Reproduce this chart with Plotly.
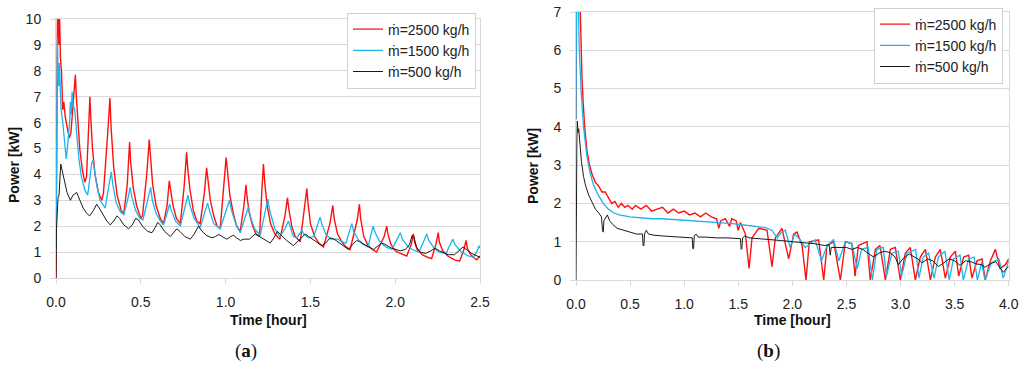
import plotly.graph_objects as go

# ---------------- (a) data ----------------
a_red_t = [0.0, 0.003, 0.006, 0.009, 0.016, 0.02, 0.026, 0.032, 0.04, 0.046, 0.055, 0.065, 0.078, 0.088, 0.1, 0.108, 0.114, 0.12, 0.13, 0.14, 0.155, 0.17, 0.18, 0.192, 0.2, 0.205, 0.215, 0.23, 0.25, 0.27, 0.28, 0.305, 0.318, 0.325, 0.34, 0.36, 0.385, 0.4, 0.42, 0.434, 0.44, 0.455, 0.475, 0.5, 0.51, 0.535, 0.55, 0.556, 0.57, 0.59, 0.615, 0.634, 0.655, 0.668, 0.675, 0.69, 0.71, 0.733, 0.755, 0.77, 0.776, 0.79, 0.81, 0.83, 0.85, 0.875, 0.888, 0.895, 0.91, 0.93, 0.95, 0.968, 0.99, 1.003, 1.01, 1.025, 1.045, 1.065, 1.086, 1.108, 1.12, 1.127, 1.14, 1.16, 1.18, 1.2, 1.215, 1.223, 1.232, 1.245, 1.265, 1.29, 1.32, 1.35, 1.365, 1.372, 1.39, 1.41, 1.44, 1.465, 1.479, 1.486, 1.5, 1.525, 1.55, 1.577, 1.615, 1.632, 1.64, 1.66, 1.69, 1.71, 1.734, 1.775, 1.789, 1.796, 1.815, 1.84, 1.865, 1.89, 1.935, 1.95, 1.957, 1.975, 2.0, 2.03, 2.068, 2.095, 2.107, 2.114, 2.13, 2.16, 2.19, 2.215, 2.24, 2.254, 2.26, 2.28, 2.31, 2.35, 2.38, 2.405, 2.418, 2.425, 2.445, 2.47, 2.48, 2.5]
a_red_p = [0.0, 3.0, 8.0, 10.5, 9.0, 10.5, 8.5, 8.0, 6.5, 6.8, 6.2, 5.8, 5.4, 5.6, 6.6, 7.2, 7.85, 7.0, 6.0, 5.0, 4.2, 3.7, 3.9, 5.8, 7.0, 6.2, 5.0, 4.0, 3.3, 3.0, 3.3, 5.6, 6.95, 5.8, 4.3, 3.2, 2.6, 2.5, 3.6, 5.25, 4.5, 3.5, 2.8, 2.3, 2.4, 4.0, 5.35, 4.8, 3.6, 2.8, 2.3, 2.1, 2.8, 3.75, 3.4, 2.8, 2.3, 2.1, 3.5, 4.85, 4.3, 3.4, 2.6, 2.2, 2.1, 3.3, 4.25, 3.8, 3.0, 2.4, 2.0, 1.9, 3.6, 4.65, 4.2, 3.2, 2.5, 2.0, 1.8, 2.8, 3.6, 3.1, 2.5, 2.0, 1.7, 1.6, 3.5, 4.4, 3.6, 2.8, 2.1, 1.7, 1.5, 2.4, 3.1, 2.7, 2.0, 1.6, 1.4, 2.6, 3.45, 2.9, 2.1, 1.6, 1.35, 1.2, 2.1, 2.8, 2.3, 1.7, 1.35, 1.2, 1.1, 2.2, 2.85, 2.3, 1.6, 1.25, 1.1, 1.0, 1.6, 2.0, 1.7, 1.3, 1.05, 0.95, 0.85, 1.3, 1.7, 1.4, 1.1, 0.9, 0.8, 0.75, 1.3, 1.75, 1.4, 1.05, 0.85, 0.7, 0.65, 1.1, 1.45, 1.15, 0.9, 0.75, 0.7, 0.85]

a_blue_t = [0.0, 0.004, 0.008, 0.012, 0.016, 0.02, 0.024, 0.03, 0.04, 0.05, 0.06, 0.07, 0.08, 0.085, 0.09, 0.095, 0.1, 0.11, 0.12, 0.135, 0.15, 0.17, 0.187, 0.2, 0.21, 0.218, 0.225, 0.24, 0.26, 0.28, 0.29, 0.31, 0.326, 0.335, 0.355, 0.38, 0.4, 0.425, 0.438, 0.448, 0.47, 0.495, 0.513, 0.54, 0.558, 0.568, 0.59, 0.615, 0.634, 0.655, 0.67, 0.68, 0.705, 0.733, 0.76, 0.778, 0.79, 0.815, 0.85, 0.875, 0.894, 0.905, 0.93, 0.968, 1.0, 1.023, 1.035, 1.06, 1.086, 1.115, 1.135, 1.145, 1.17, 1.204, 1.23, 1.249, 1.26, 1.29, 1.32, 1.35, 1.37, 1.38, 1.4, 1.42, 1.435, 1.45, 1.46, 1.49, 1.52, 1.54, 1.557, 1.567, 1.59, 1.62, 1.66, 1.69, 1.71, 1.73, 1.744, 1.755, 1.78, 1.81, 1.84, 1.858, 1.87, 1.882, 1.91, 1.945, 1.98, 2.015, 2.03, 2.042, 2.07, 2.1, 2.14, 2.17, 2.186, 2.198, 2.23, 2.26, 2.3, 2.325, 2.34, 2.352, 2.39, 2.43, 2.46, 2.48, 2.494, 2.5]
a_blue_p = [1.0, 7.5, 9.3, 8.0, 7.4, 8.3, 7.6, 6.5, 6.0, 5.2, 4.6, 5.2, 6.0, 6.8, 6.3, 7.2, 6.7, 6.5, 5.6, 4.6, 3.9, 3.4, 3.2, 3.9, 4.4, 4.55, 4.2, 3.6, 3.0, 2.8, 2.7, 3.5, 4.1, 3.6, 2.9, 2.55, 2.45, 3.1, 3.5, 3.1, 2.6, 2.3, 2.25, 3.0, 3.5, 3.0, 2.5, 2.2, 2.05, 2.5, 2.85, 2.6, 2.2, 2.0, 2.8, 3.2, 2.8, 2.3, 1.95, 2.5, 2.9, 2.6, 2.1, 1.9, 2.5, 3.0, 2.6, 2.1, 1.75, 2.4, 2.75, 2.4, 1.9, 1.65, 2.5, 3.05, 2.6, 1.9, 1.6, 1.9, 2.2, 2.0, 1.6, 1.55, 1.7, 1.85, 1.7, 1.55, 1.6, 2.0, 2.35, 2.1, 1.7, 1.5, 1.5, 1.4, 1.35, 1.8, 2.1, 1.8, 1.5, 1.3, 1.2, 1.7, 2.0, 1.75, 1.4, 1.2, 1.1, 1.55, 1.75, 1.5, 1.25, 1.1, 1.0, 1.45, 1.7, 1.45, 1.15, 1.0, 0.95, 1.3, 1.5, 1.3, 1.0, 0.85, 0.8, 1.0, 1.25, 1.15]

a_black_t = [0.0, 0.003, 0.012, 0.018, 0.028, 0.035, 0.05, 0.065, 0.085, 0.1, 0.122, 0.135, 0.16, 0.18, 0.198, 0.22, 0.24, 0.255, 0.28, 0.3, 0.32, 0.34, 0.36, 0.375, 0.4, 0.428, 0.45, 0.47, 0.485, 0.51, 0.54, 0.566, 0.585, 0.6, 0.615, 0.64, 0.674, 0.695, 0.713, 0.73, 0.76, 0.792, 0.815, 0.84, 0.855, 0.885, 0.92, 0.94, 0.96, 0.98, 1.007, 1.03, 1.047, 1.065, 1.087, 1.11, 1.14, 1.175, 1.2, 1.23, 1.263, 1.285, 1.306, 1.32, 1.36, 1.4, 1.44, 1.47, 1.49, 1.53, 1.567, 1.59, 1.616, 1.64, 1.68, 1.724, 1.75, 1.773, 1.79, 1.83, 1.872, 1.9, 1.92, 1.94, 1.98, 2.03, 2.06, 2.085, 2.1, 2.11, 2.125, 2.147, 2.18, 2.21, 2.235, 2.26, 2.29, 2.313, 2.35, 2.38, 2.4, 2.42, 2.45, 2.5]
a_black_p = [0.0, 1.9, 3.1, 3.2, 4.4, 4.2, 3.7, 3.3, 3.0, 3.2, 3.3, 3.1, 2.7, 2.5, 2.4, 2.6, 2.85, 2.7, 2.4, 2.2, 2.05, 2.2, 2.4, 2.3, 2.05, 1.9, 2.05, 2.3, 2.25, 2.0, 1.8, 1.75, 1.95, 2.15, 2.05, 1.8, 1.6, 1.75, 1.9, 1.8, 1.6, 1.5, 1.7, 2.0, 1.85, 1.65, 1.55, 1.6, 1.68, 1.6, 1.5, 1.6, 1.65, 1.55, 1.45, 1.5, 1.5, 1.7, 1.6, 1.45, 1.35, 1.55, 1.8, 1.7, 1.45, 1.25, 1.5, 1.7, 1.6, 1.4, 1.25, 1.35, 1.55, 1.5, 1.3, 1.1, 1.3, 1.45, 1.4, 1.25, 1.1, 1.25, 1.35, 1.3, 1.15, 1.05, 1.1, 1.3, 1.65, 1.6, 1.2, 1.0, 0.95, 1.05, 1.15, 1.05, 0.95, 0.9, 0.9, 1.1, 1.2, 1.1, 0.95, 0.8]

# ---------------- (b) data ----------------
b_red_t = [0.0, 0.006, 0.035, 0.045, 0.055, 0.065, 0.08, 0.1, 0.125, 0.15, 0.18, 0.21, 0.24, 0.27, 0.3, 0.33, 0.36, 0.39, 0.42, 0.45, 0.48, 0.52, 0.55, 0.6, 0.65, 0.7, 0.75, 0.8, 0.85, 0.9, 0.95, 1.0, 1.05, 1.1, 1.15, 1.2, 1.25, 1.3, 1.32, 1.34, 1.38, 1.42, 1.44, 1.48, 1.5, 1.52, 1.566, 1.6, 1.627, 1.689, 1.766, 1.812, 1.843, 1.904, 1.966, 2.012, 2.043, 2.09, 2.126, 2.157, 2.243, 2.29, 2.32, 2.382, 2.444, 2.49, 2.55, 2.58, 2.61, 2.69, 2.72, 2.767, 2.81, 2.86, 2.906, 2.952, 2.998, 3.044, 3.09, 3.137, 3.183, 3.23, 3.276, 3.322, 3.368, 3.414, 3.46, 3.507, 3.538, 3.584, 3.63, 3.66, 3.707, 3.753, 3.784, 3.83, 3.877, 3.92, 3.97, 4.0]
b_red_p = [4.2, 7.5, 7.5, 6.1, 5.3, 4.7, 4.0, 3.4, 3.0, 2.75, 2.55, 2.45, 2.3, 2.3, 2.15, 2.0, 2.05, 1.9, 2.0, 1.9, 1.95, 1.85, 1.95, 1.85, 1.95, 1.8, 1.85, 1.9, 1.75, 1.85, 1.75, 1.8, 1.7, 1.75, 1.65, 1.75, 1.65, 1.6, 1.35, 1.55, 1.6, 1.4, 1.6, 1.55, 1.3, 1.5, 1.2, 0.3, 1.1, 1.35, 1.3, 0.35, 1.1, 1.35, 0.55, 1.2, 1.25, 0.9, 0.0, 1.0, 1.05, 0.0, 0.9, 1.0, 0.0, 1.0, 0.95, 0.1, 0.9, 1.0, 0.0, 0.8, 0.9, 0.0, 0.8, 0.85, 0.0, 0.7, 0.85, 0.0, 0.6, 0.8, 0.0, 0.6, 0.8, 0.05, 0.6, 0.75, 0.1, 0.6, 0.65, 0.05, 0.5, 0.55, 0.0, 0.5, 0.8, 0.3, 0.4, 0.55]

b_blue_t = [0.0, 0.004, 0.02, 0.03, 0.05, 0.07, 0.1, 0.13, 0.16, 0.2, 0.25, 0.3, 0.35, 0.4, 0.5, 0.6, 0.7, 0.8, 0.9, 1.0, 1.1, 1.2, 1.32, 1.45, 1.566, 1.65, 1.75, 1.81, 1.86, 1.9, 1.935, 1.98, 2.02, 2.06, 2.12, 2.21, 2.27, 2.32, 2.38, 2.43, 2.49, 2.55, 2.6, 2.64, 2.7, 2.74, 2.78, 2.84, 2.87, 2.92, 2.98, 3.01, 3.06, 3.14, 3.17, 3.21, 3.26, 3.31, 3.35, 3.41, 3.45, 3.49, 3.55, 3.58, 3.63, 3.68, 3.71, 3.75, 3.78, 3.84, 3.91, 3.95, 4.0]
b_blue_p = [4.2, 7.5, 7.5, 6.0, 4.8, 4.0, 3.25, 2.8, 2.5, 2.25, 2.0, 1.85, 1.75, 1.7, 1.65, 1.62, 1.6, 1.6, 1.58, 1.56, 1.55, 1.52, 1.5, 1.47, 1.43, 1.4, 1.37, 1.3, 1.1, 1.25, 1.3, 0.85, 1.2, 1.1, 0.85, 1.05, 0.5, 0.9, 1.05, 0.5, 1.0, 0.95, 0.3, 0.8, 0.85, 0.0, 0.8, 0.85, 0.1, 0.7, 0.75, 0.1, 0.7, 0.8, 0.05, 0.6, 0.7, 0.05, 0.6, 0.75, 0.0, 0.55, 0.65, 0.0, 0.55, 0.6, 0.0, 0.45, 0.0, 0.45, 0.55, 0.05, 0.5]

b_black_t = [0.0, 0.003, 0.008, 0.012, 0.018, 0.025, 0.035, 0.05, 0.07, 0.09, 0.12, 0.15, 0.18, 0.21, 0.235, 0.245, 0.252, 0.258, 0.275, 0.29, 0.31, 0.34, 0.38, 0.43, 0.5, 0.56, 0.615, 0.62, 0.628, 0.633, 0.65, 0.67, 0.72, 0.8, 0.9, 1.0, 1.075, 1.08, 1.087, 1.093, 1.11, 1.13, 1.2, 1.3, 1.4, 1.52, 1.527, 1.533, 1.54, 1.56, 1.6, 1.7, 1.8, 1.9, 2.0, 2.1, 2.2, 2.3, 2.34, 2.35, 2.36, 2.4, 2.5, 2.55, 2.6, 2.65, 2.7, 2.75, 2.8, 2.85, 2.9, 2.95, 2.98, 3.02, 3.08, 3.12, 3.16, 3.2, 3.25, 3.3, 3.35, 3.4, 3.45, 3.5, 3.55, 3.6, 3.65, 3.7, 3.75, 3.78, 3.83, 3.88, 3.92, 3.95, 3.98, 4.0]
b_black_p = [0.0, 3.5, 3.6, 4.15, 3.85, 3.95, 3.6, 3.1, 2.7, 2.45, 2.2, 2.0, 1.85, 1.75, 1.65, 1.3, 1.25, 1.55, 1.65, 1.7, 1.55, 1.45, 1.35, 1.3, 1.25, 1.2, 1.2, 0.9, 0.9, 1.2, 1.3, 1.2, 1.17, 1.15, 1.13, 1.12, 1.1, 0.82, 0.82, 1.15, 1.2, 1.12, 1.12, 1.1, 1.1, 1.08, 0.8, 0.82, 1.1, 1.15, 1.1, 1.08, 1.05, 1.03, 1.0, 0.97, 0.95, 0.9, 0.92, 0.65, 0.85, 0.85, 0.85, 0.8, 0.85, 0.8, 0.7, 0.6, 0.7, 0.75, 0.72, 0.6, 0.4, 0.55, 0.68, 0.62, 0.55, 0.45, 0.55, 0.5, 0.35, 0.45, 0.55, 0.5, 0.38, 0.5, 0.48, 0.42, 0.4, 0.33, 0.42, 0.48, 0.3, 0.2, 0.3, 0.35]

series_names = ["ṁ=2500 kg/h", "ṁ=1500 kg/h", "ṁ=500 kg/h"]
series_colors = ["#ff1010", "#1eb3ea", "#1a1a1a"]
series_widths = [1.4, 1.3, 1.0]

a_x_ticks = [0.0, 0.5, 1.0, 1.5, 2.0, 2.5]
b_x_ticks = [0.0, 0.5, 1.0, 1.5, 2.0, 2.5, 3.0, 3.5, 4.0]

W, H = 1024, 365


def px(x):
    return x / W


def py(y):
    return 1 - y / H


fig = go.Figure()
a_sets = [(a_red_t, a_red_p), (a_blue_t, a_blue_p), (a_black_t, a_black_p)]
b_sets = [(b_red_t, b_red_p), (b_blue_t, b_blue_p), (b_black_t, b_black_p)]
for i, (t, p) in enumerate(a_sets):
    fig.add_trace(go.Scatter(x=t, y=p, mode="lines", name=series_names[i],
                             line=dict(color=series_colors[i], width=series_widths[i]),
                             xaxis="x", yaxis="y", legend="legend"))
for i, (t, p) in enumerate(b_sets):
    fig.add_trace(go.Scatter(x=t, y=p, mode="lines", name=series_names[i],
                             line=dict(color=series_colors[i], width=series_widths[i]),
                             xaxis="x2", yaxis="y2", legend="legend2"))

grid = "#d9d9d9"
tickfont = dict(family="Liberation Sans, Arial, sans-serif", size=14, color="#222")
common_x = dict(showgrid=False, showline=True, linecolor=grid, mirror=True,
                ticks="outside", ticklen=5, tickcolor=grid, tickfont=tickfont,
                ticklabelstandoff=6, zeroline=False, tickformat=".1f", automargin=False,
                ticklabeloverflow="allow")
common_y = dict(showgrid=True, gridcolor=grid, showline=True, linecolor=grid, mirror=True,
                ticks="outside", ticklen=5, tickcolor=grid, tickfont=tickfont,
                ticklabelstandoff=6, zeroline=False, dtick=1, automargin=False,
                ticklabeloverflow="allow")

legend_font = dict(family="Liberation Sans, Arial, sans-serif", size=14, color="#222")
fig.update_layout(
    width=W, height=H, margin=dict(l=0, r=0, t=0, b=0, autoexpand=False),
    paper_bgcolor="white", plot_bgcolor="white", showlegend=True,
    xaxis=dict(domain=[px(56), px(480)], range=[0, 2.5], tickvals=a_x_ticks, anchor="y", **common_x),
    yaxis=dict(domain=[py(278), py(19)], range=[0, 10], anchor="x", **common_y),
    xaxis2=dict(domain=[px(576), px(1008.7)], range=[0, 4.0], tickvals=b_x_ticks, anchor="y2", **common_x),
    yaxis2=dict(domain=[py(280), py(12)], range=[0, 7], anchor="x2", **common_y),
    legend=dict(x=px(476), y=py(50.5), xanchor="right", yanchor="middle",
                bgcolor="white", bordercolor="#d0d0d0", borderwidth=1,
                font=legend_font, tracegroupgap=0, itemwidth=30),
    legend2=dict(x=px(1003), y=py(45.5), xanchor="right", yanchor="middle",
                 bgcolor="white", bordercolor="#d0d0d0", borderwidth=1,
                 font=legend_font, tracegroupgap=0, itemwidth=30),
)

lab_font = dict(family="Liberation Sans, Arial, sans-serif", size=14, color="#111")
cap_font = dict(family="Liberation Serif, Times New Roman, serif", size=19, color="#111")
ann = [
    dict(text="<b>Power [kW]</b>", x=px(14), y=py(165), textangle=-90, font=lab_font),
    dict(text="<b>Power [kW]</b>", x=px(533), y=py(166), textangle=-90, font=lab_font),
    dict(text="<b>Time [hour]</b>", x=px(268), y=py(320), font=lab_font),
    dict(text="<b>Time [hour]</b>", x=px(792), y=py(320), font=lab_font),
    dict(text="(<b>a</b>)", x=px(246), y=py(351), font=cap_font),
    dict(text="(<b>b</b>)", x=px(768), y=py(351), font=cap_font),
]
for a in ann:
    fig.add_annotation(xref="paper", yref="paper", showarrow=False,
                       xanchor="center", yanchor="middle", **a)

# remove the browser's default 8px body margin so the figure fills the window
fig.write_html("out.html", config={"displayModeBar": False},
               post_script="document.body.style.margin='0';")
